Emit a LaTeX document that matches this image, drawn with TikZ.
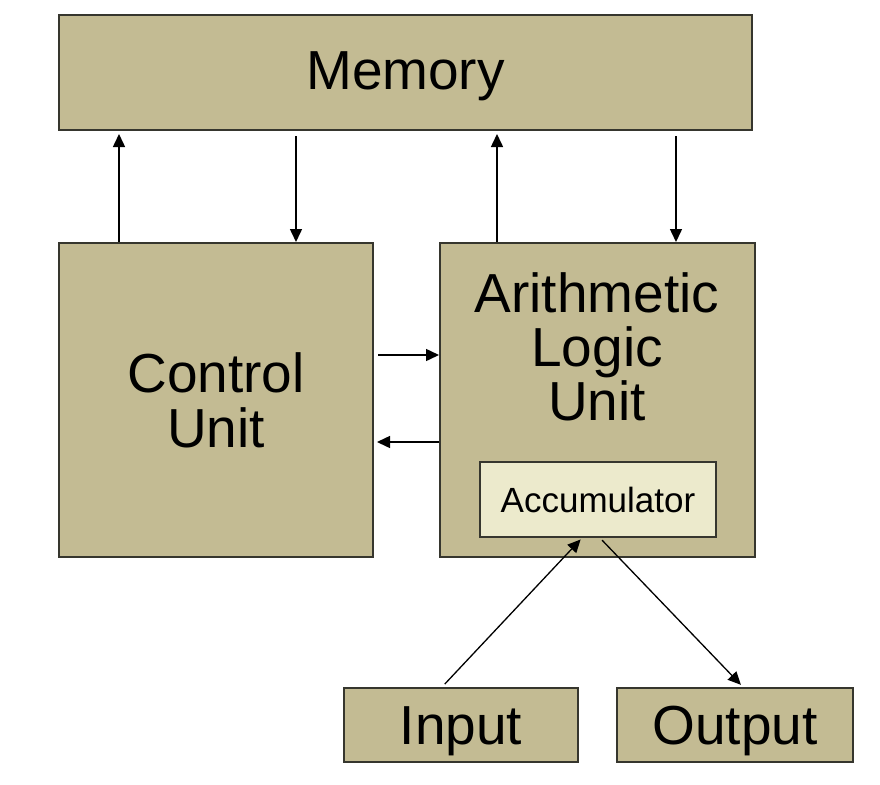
\documentclass[tikz,border=0pt]{standalone}
\usepackage{fontspec}
\setmainfont{Liberation Sans}
\usetikzlibrary{arrows.meta}
\definecolor{boxfill}{HTML}{C3BB93}
\definecolor{accfill}{HTML}{ECEACC}
\definecolor{edge}{HTML}{36362E}
\begin{document}
\begin{tikzpicture}[x=1pt,y=-1pt,
  blk/.style={draw=edge,fill=boxfill,line width=2pt,inner sep=0pt,anchor=north west,
    font=\fontsize{55}{55}\selectfont,align=center},
  one/.style={text height=39.6pt,text depth=0pt},
  onesmall/.style={text height=25.2pt,text depth=0pt},
  arr/.style={-{Triangle[length=13pt,width=12pt]},line width=1.5pt,black}]
\useasboundingbox (0,0) rectangle (880,784);
\node[blk,one,minimum width=693pt,minimum height=115pt] (mem) at (58,14) {\raisebox{3pt}{Memory}};
\node[blk,minimum width=314pt,minimum height=314pt] (cu) at (58,242) {Control\\Unit};
\node[blk,minimum width=315pt,minimum height=314pt] (alu) at (439,242) {};
\node[font=\fontsize{55}{54}\selectfont,align=center,inner sep=0pt] (alutxt) at (597,347) {Arithmetic\\Logic\\Unit};
\node[blk,onesmall,fill=accfill,font=\fontsize{35}{35}\selectfont,minimum width=236pt,minimum height=75pt] (acc) at (479,461) {Accumulator};
\node[blk,one,minimum width=234pt,minimum height=74pt] (inp) at (343,687) {Input};
\node[blk,one,minimum width=236pt,minimum height=74pt] (out) at (616,687) {Output};
% helper coordinates
\coordinate (xa) at (119,0);
\coordinate (xb) at (296,0);
\coordinate (xc) at (497,0);
\coordinate (xd) at (676,0);
\coordinate (ya) at (0,355);
\coordinate (yb) at (0,442);
\coordinate (xi) at (442,0);
\coordinate (xj) at (582,0);
\coordinate (xk) at (600,0);
\coordinate (xl) at (743,0);
% connectors
\draw[arr,shorten >=3pt] (cu.north -| xa) -- (mem.south -| xa);
\draw[arr,shorten <=5pt] (mem.south -| xb) -- (cu.north -| xb);
\draw[arr,shorten >=3pt] (alu.north -| xc) -- (mem.south -| xc);
\draw[arr,shorten <=5pt] (mem.south -| xd) -- (alu.north -| xd);
\draw[arr,shorten <=4pt] (cu.east |- ya) -- (alu.west |- ya);
\draw[arr,shorten >=3pt] (alu.west |- yb) -- (cu.east |- yb);
\draw[arr,line width=1.3pt,shorten <=4pt,shorten >=2pt] (inp.north -| xi) -- (acc.south -| xj);
\draw[arr,line width=1.3pt,shorten <=3pt,shorten >=3pt] (acc.south -| xk) -- (out.north -| xl);
\end{tikzpicture}
\end{document}
